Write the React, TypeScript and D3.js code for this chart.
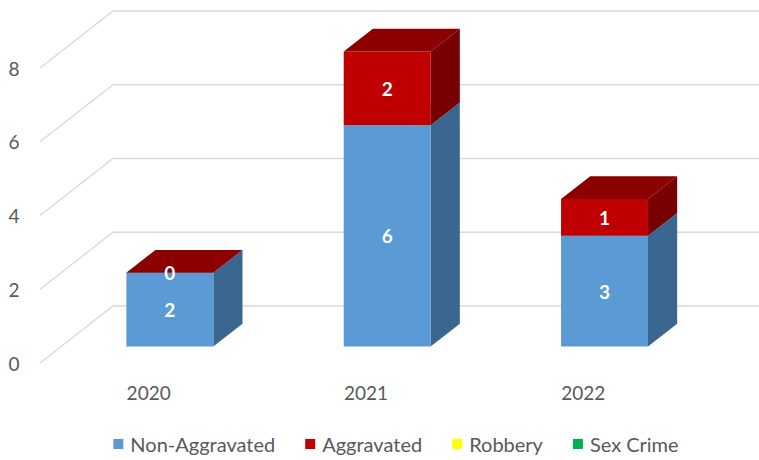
import React, { useEffect, useRef } from 'react';
import * as d3 from 'd3';

const years = ['2020', '2021', '2022'];
const nonAggravated = [2, 6, 3];
const aggravated = [0, 2, 1];
const robbery = [0, 0, 0];
const sexCrime = [0, 0, 0];
const yTicks = [0, 2, 4, 6, 8];

const seriesNames = ['Non-Aggravated', 'Aggravated', 'Robbery', 'Sex Crime'];
const seriesValues = [nonAggravated, aggravated, robbery, sexCrime];
// front / top / side shades per series
const seriesColors = [
  { front: '#5B9BD5', top: '#7FB0DE', side: '#3B6690' },
  { front: '#C00000', top: '#8C0000', side: '#780000' },
  { front: '#FFFF00', top: '#CCCC00', side: '#AAAA00' },
  { front: '#00B050', top: '#008A3E', side: '#006E32' },
];

const W = 759, H = 460;
const FONT = 'Lato, "Liberation Sans", sans-serif';

export default function App() {
  const ref = useRef<SVGSVGElement | null>(null);

  useEffect(() => {
    const svg = d3.select(ref.current);
    svg.selectAll('*').remove();

    // depth of the 3d box (oblique projection)
    const DX = 73, DY = 57;
    const d0 = 0.29, d1 = 0.69;

    const x = d3.scaleBand().domain(years).range([40, 692]).padding(0);
    const y = d3.scaleLinear().domain([0, 8]).range([363, 68]);

    const px = (xv: number, d: number) => xv + d * DX;
    const py = (v: number, d: number) => y(v) - d * DY;

    // gridlines: left wall diagonal + back wall horizontal
    const grid = svg.append('g').attr('stroke', '#d9d9d9').attr('stroke-width', 1.3).attr('fill', 'none');
    yTicks.forEach((t) => {
      grid.append('path')
        .attr('d', `M${px(40, 0)},${py(t, 0)} L${px(40, 1)},${py(t, 1)} L${W},${py(t, 1)}`);
    });

    // y tick labels
    yTicks.forEach((t) => {
      svg.append('text')
        .attr('x', 14)
        .attr('y', y(t))
        .attr('text-anchor', 'middle')
        .attr('dominant-baseline', 'central')
        .attr('font-family', FONT)
        .attr('font-size', 19)
        .attr('fill', '#595959')
        .text(String(t));
    });

    // category labels
    years.forEach((yr) => {
      svg.append('text')
        .attr('x', (x(yr) as number) + x.bandwidth() / 2)
        .attr('y', 392)
        .attr('text-anchor', 'middle')
        .attr('dominant-baseline', 'central')
        .attr('font-family', FONT)
        .attr('font-size', 19)
        .attr('fill', '#595959')
        .text(yr);
    });

    // bars
    const barW = x.bandwidth() * 0.4;
    const bars = svg.append('g');
    const labelG = svg.append('g');
    const poly = (pts: [number, number][]) => 'M' + pts.map((p) => p.join(',')).join('L') + 'Z';
    years.forEach((yr, i) => {
      const xl = (x(yr) as number) + (x.bandwidth() - barW) / 2;
      const xr = xl + barW;
      let base = 0;
      // only the first two series have data; the others are all zero
      [0, 1].forEach((s) => {
        const v = seriesValues[s][i];
        const lo = base, hi = base + v;
        const c = seriesColors[s];
        // side
        bars.append('path')
          .attr('d', poly([[px(xr, d0), py(lo, d0)], [px(xr, d1), py(lo, d1)], [px(xr, d1), py(hi, d1)], [px(xr, d0), py(hi, d0)]]))
          .attr('fill', c.side);
        // front
        bars.append('path')
          .attr('d', poly([[px(xl, d0), py(lo, d0)], [px(xr, d0), py(lo, d0)], [px(xr, d0), py(hi, d0)], [px(xl, d0), py(hi, d0)]]))
          .attr('fill', c.front);
        // top
        bars.append('path')
          .attr('d', poly([[px(xl, d0), py(hi, d0)], [px(xr, d0), py(hi, d0)], [px(xr, d1), py(hi, d1)], [px(xl, d1), py(hi, d1)]]))
          .attr('fill', c.top);
        labelG.append('text')
          .attr('x', px((xl + xr) / 2, d0))
          .attr('y', py((lo + hi) / 2, d0))
          .attr('text-anchor', 'middle')
          .attr('dominant-baseline', 'central')
          .attr('font-family', FONT)
          .attr('font-weight', 'bold')
          .attr('font-size', 19)
          .attr('fill', '#ffffff')
          .text(String(v));
        base = hi;
      });
    });

    // legend
    const legend = svg.append('g');
    let cx = 0;
    const gap = 30;
    seriesNames.forEach((name, i) => {
      const g = legend.append('g').attr('transform', `translate(${cx},0)`);
      g.append('rect').attr('x', 0).attr('y', -5).attr('width', 10).attr('height', 10)
        .attr('fill', seriesColors[i].front);
      const t = g.append('text')
        .attr('x', 17)
        .attr('y', 0)
        .attr('dominant-baseline', 'central')
        .attr('font-family', FONT)
        .attr('font-size', 20)
        .attr('fill', '#595959')
        .text(name);
      const w = 17 + (t.node() as SVGTextElement).getComputedTextLength();
      cx += w + gap;
    });
    const total = cx - gap;
    legend.attr('transform', `translate(${396 - total / 2},444)`);
  }, []);

  return (
    <svg ref={ref} width={W} height={H}
      style={{ position: 'absolute', left: 0, top: 0, background: '#fff' }} />
  );
}
